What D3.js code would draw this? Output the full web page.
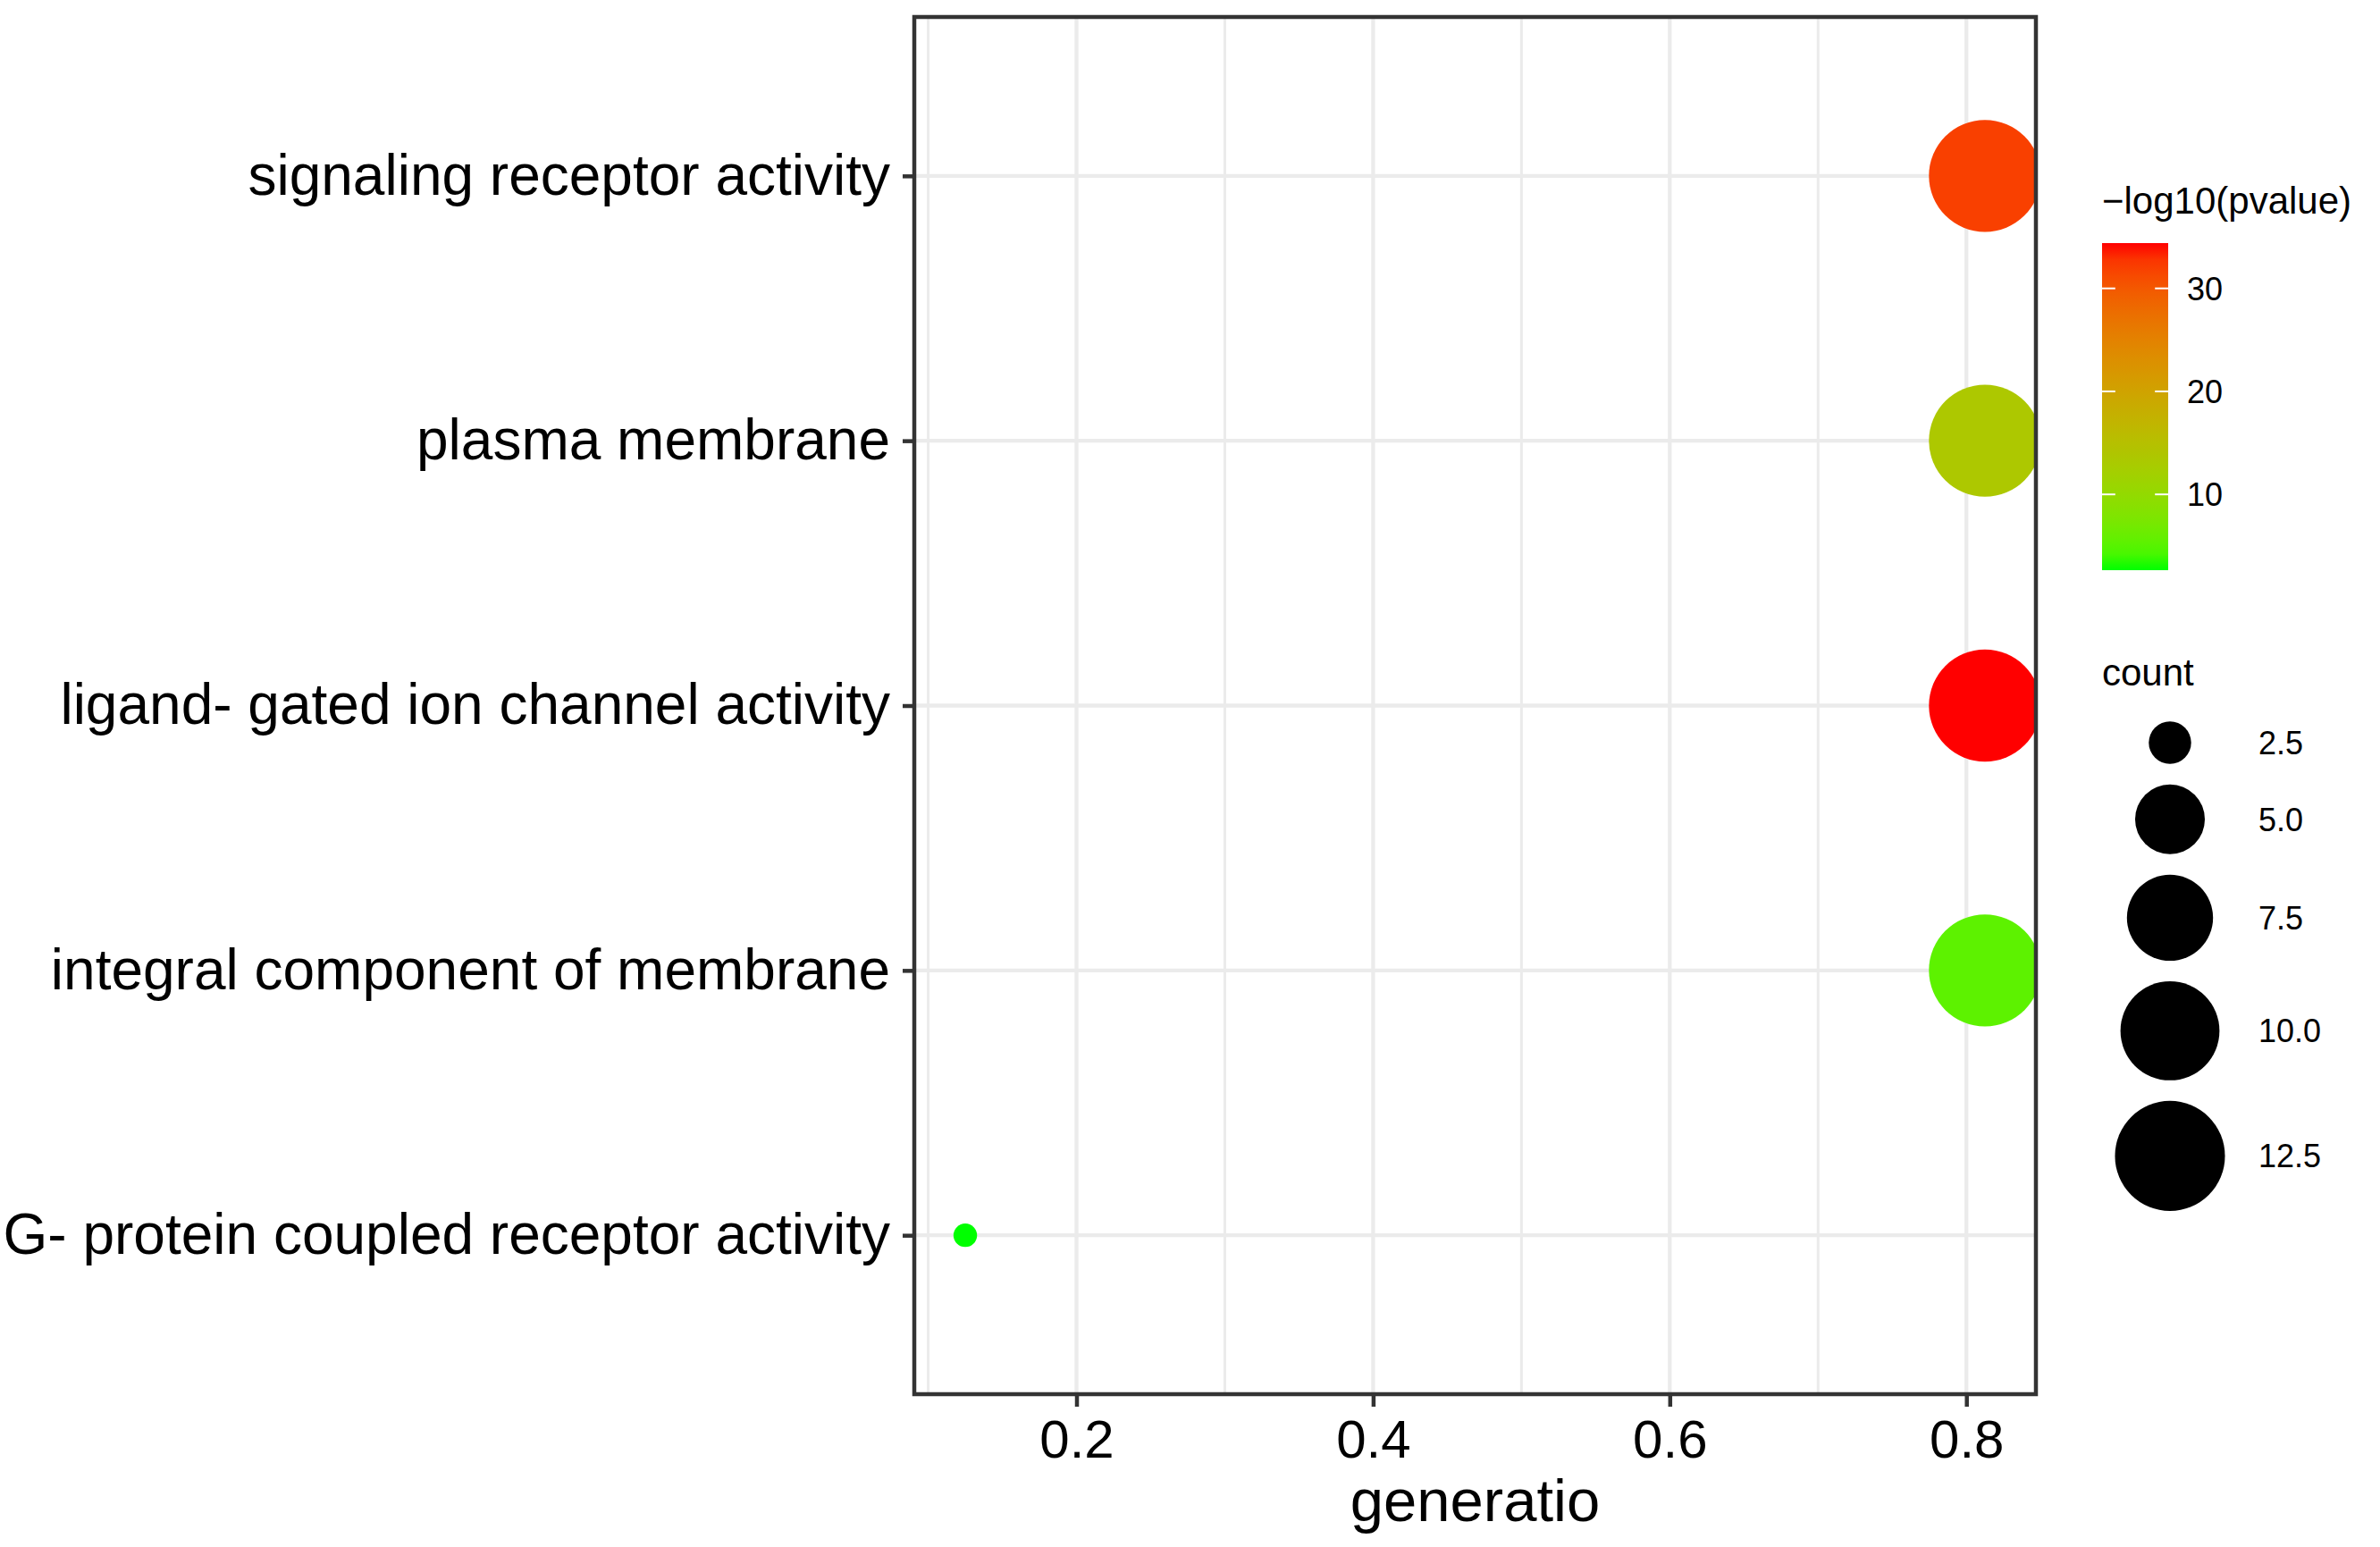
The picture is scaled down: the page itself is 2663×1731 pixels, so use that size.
<!DOCTYPE html>
<html>
<head>
<meta charset="utf-8">
<script src="https://cdn.jsdelivr.net/npm/d3@7"></script>
<style>
  body { margin: 0; background: #fff; }
  svg { display: block; font-family: "Liberation Sans", Arial, sans-serif; }
</style>
</head>
<body>
<div id="chart"></div>
<script>
// GO enrichment bubble chart
const terms = [
  "signaling receptor activity",
  "plasma membrane",
  "ligand- gated ion channel activity",
  "integral component of membrane",
  "G- protein coupled receptor activity"
];
const geneRatio = [0.8125, 0.8125, 0.8125, 0.8125, 0.125];
const geneCount = [13, 13, 13, 13, 2];
const logP = [32.0, 13.5, 34.4, 5.3, 2.64];

const xTicks = [0.2, 0.4, 0.6, 0.8];
const xMinor = [0.1, 0.3, 0.5, 0.7];
const colorTicks = [10, 20, 30];
const sizeBreaks = [2.5, 5.0, 7.5, 10.0, 12.5];

const W = 2663, H = 1731;
const panel = { left: 1023, right: 2278, top: 19, bottom: 1560 };

const svg = d3.select("#chart").append("svg")
    .attr("width", W)
    .attr("height", H);

svg.append("rect").attr("width", W).attr("height", H).attr("fill", "#fff");

// -- Scales --
const xExt = d3.extent(geneRatio);
const xPad = (xExt[1] - xExt[0]) * 0.05;
const x = d3.scaleLinear()
    .domain([xExt[0] - xPad, xExt[1] + xPad])
    .range([panel.left, panel.right]);

const y = d3.scalePoint()
    .domain(terms)
    .range([panel.top, panel.bottom])
    .padding(0.6);

const pExt = d3.extent(logP);
const color = d3.scaleLinear()
    .domain(pExt)
    .range(["#00ff00", "#ff0000"])
    .interpolate(d3.interpolateLab);

// ggplot-style area palette: size = 1 + 5*sqrt(rescaled count)
const cExt = d3.extent(geneCount);
const countT = d3.scaleLinear().domain(cExt).range([0, 1]);
const areaPal = d3.scaleSqrt().domain([0, 1]).range([1, 6]);
const radius = v => (areaPal(countT(v)) + 0.33) * 9.9;

// -- Grid --
const grid = svg.append("g");
grid.selectAll("line.minor")
    .data(xMinor)
    .join("line")
    .attr("x1", d => x(d)).attr("x2", d => x(d))
    .attr("y1", panel.top).attr("y2", panel.bottom)
    .attr("stroke", "#ebebeb").attr("stroke-width", 3);
grid.selectAll("line.vmajor")
    .data(xTicks)
    .join("line")
    .attr("x1", d => x(d)).attr("x2", d => x(d))
    .attr("y1", panel.top).attr("y2", panel.bottom)
    .attr("stroke", "#ebebeb").attr("stroke-width", 4.3);
grid.selectAll("line.hmajor")
    .data(terms)
    .join("line")
    .attr("x1", panel.left).attr("x2", panel.right)
    .attr("y1", d => y(d)).attr("y2", d => y(d))
    .attr("stroke", "#ebebeb").attr("stroke-width", 4.3);

// -- Points (clipped to panel like ggplot) --
svg.append("clipPath").attr("id", "panel-clip")
    .append("rect")
    .attr("x", panel.left).attr("y", panel.top)
    .attr("width", panel.right - panel.left)
    .attr("height", panel.bottom - panel.top);

svg.append("g")
    .attr("clip-path", "url(#panel-clip)")
    .selectAll("circle")
    .data(terms.map((t, i) => ({ term: t, ratio: geneRatio[i], count: geneCount[i], p: logP[i] })))
    .join("circle")
    .attr("cx", d => x(d.ratio))
    .attr("cy", d => y(d.term))
    .attr("r", d => radius(d.count))
    .attr("fill", d => color(d.p));

// -- Panel border --
svg.append("rect")
    .attr("x", panel.left).attr("y", panel.top)
    .attr("width", panel.right - panel.left)
    .attr("height", panel.bottom - panel.top)
    .attr("fill", "none")
    .attr("stroke", "#333333")
    .attr("stroke-width", 4.5);

// -- Axes --
const xAxis = svg.append("g")
    .attr("transform", `translate(0,${panel.bottom})`)
    .call(d3.axisBottom(x).tickValues(xTicks).tickSize(14).tickPadding(14).tickFormat(d3.format(".1f")));
xAxis.select(".domain").remove();
xAxis.selectAll(".tick line").attr("stroke", "#333333").attr("stroke-width", 4.5);
xAxis.selectAll(".tick text")
    .attr("fill", "#000")
    .style("font-size", "60px")
    .attr("dy", "0.71em");

const yAxis = svg.append("g")
    .attr("transform", `translate(${panel.left},0)`)
    .call(d3.axisLeft(y).tickSize(13).tickPadding(14));
yAxis.select(".domain").remove();
yAxis.selectAll(".tick line").attr("stroke", "#333333").attr("stroke-width", 4.5);
yAxis.selectAll(".tick text")
    .attr("fill", "#000")
    .style("font-size", "64px");

svg.append("text")
    .attr("x", (panel.left + panel.right) / 2)
    .attr("y", 1702)
    .attr("text-anchor", "middle")
    .style("font-size", "67px")
    .attr("fill", "#000")
    .text("generatio");

// -- Colour legend --
const legX = 2352;
const bar = { x: legX, y0: 272, y1: 638, w: 74 };

svg.append("text")
    .attr("x", legX).attr("y", 239)
    .style("font-size", "42px")
    .attr("fill", "#000")
    .text("\u2212log10(pvalue)");

const grad = svg.append("defs").append("linearGradient")
    .attr("id", "pgrad")
    .attr("x1", 0).attr("x2", 0).attr("y1", 1).attr("y2", 0);
grad.selectAll("stop")
    .data(d3.range(0, 1.0001, 0.05))
    .join("stop")
    .attr("offset", d => d)
    .attr("stop-color", d => color(pExt[0] + d * (pExt[1] - pExt[0])));

svg.append("rect")
    .attr("x", bar.x).attr("y", bar.y0)
    .attr("width", bar.w).attr("height", bar.y1 - bar.y0)
    .attr("fill", "url(#pgrad)");

const barY = d3.scaleLinear().domain(pExt).range([bar.y1, bar.y0]);
const cTicks = svg.append("g").selectAll("g")
    .data(colorTicks)
    .join("g")
    .attr("transform", d => `translate(0,${barY(d)})`);
cTicks.append("line")
    .attr("x1", bar.x).attr("x2", bar.x + bar.w * 0.2)
    .attr("stroke", "#fff").attr("stroke-width", 2);
cTicks.append("line")
    .attr("x1", bar.x + bar.w * 0.8).attr("x2", bar.x + bar.w)
    .attr("stroke", "#fff").attr("stroke-width", 2);
cTicks.append("text")
    .attr("x", 2447)
    .attr("dy", "0.36em")
    .style("font-size", "36px")
    .attr("fill", "#000")
    .text(d => d);

// -- Size legend --
svg.append("text")
    .attr("x", legX).attr("y", 767)
    .style("font-size", "42px")
    .attr("fill", "#000")
    .text("count");

let cy = 831;
const sizeKeys = sizeBreaks.map((v, i) => {
    const r = radius(v);
    if (i > 0) cy += radius(sizeBreaks[i - 1]) + r + 23;
    return { v, r, cy };
});
const sk = svg.append("g").selectAll("g")
    .data(sizeKeys)
    .join("g")
    .attr("transform", d => `translate(0,${d.cy})`);
sk.append("circle")
    .attr("cx", 2428)
    .attr("r", d => d.r)
    .attr("fill", "#000");
sk.append("text")
    .attr("x", 2527)
    .attr("dy", "0.36em")
    .style("font-size", "36px")
    .attr("fill", "#000")
    .text(d => d3.format(".1f")(d.v));
</script>
</body>
</html>
